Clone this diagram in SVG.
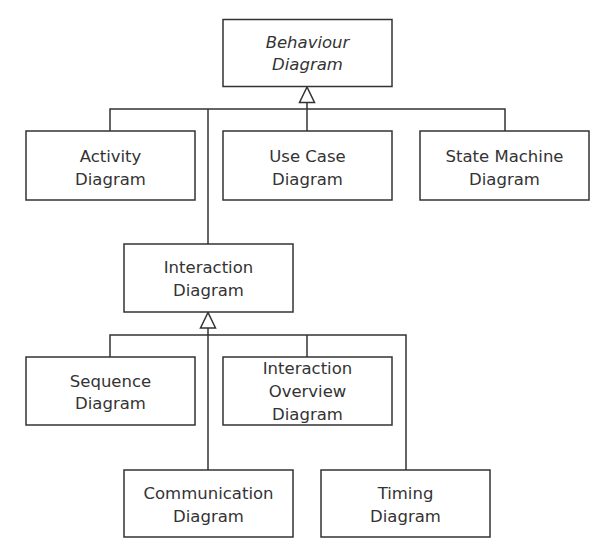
<svg xmlns="http://www.w3.org/2000/svg" width="601" height="556" viewBox="0 0 601 556">
<style>
.box{fill:#fff;stroke:#333;stroke-width:1.5}
.t{font-family:"DejaVu Sans",sans-serif;font-size:16.5px;fill:#333;text-anchor:middle}
.i{font-style:italic}
.c{fill:none;stroke:#333;stroke-width:1.5}
.tri{fill:#fff;stroke:#333;stroke-width:1.5}
</style>
<rect width="601" height="556" fill="#fff"/>
<g id="connectors">
<path class="c" d="M110,131 V109 H505 V131"/>
<path class="c" d="M307,131 V102"/>
<path class="c" d="M208,109 V244"/>
<polygon class="tri" points="307,87 299.5,102.5 314.5,102.5"/>
<path class="c" d="M110,357 V335 H406 V470"/>
<path class="c" d="M307,357 V335"/>
<path class="c" d="M208,470 V328"/>
<polygon class="tri" points="208,312.5 200.5,328 215.5,328"/>
</g>
<g id="behaviour">
<rect class="box" x="223" y="19.5" width="169" height="67"/>
<text class="t i" x="307.5" y="48">Behaviour</text>
<text class="t i" x="307.5" y="70">Diagram</text>
</g>
<g id="activity">
<rect class="box" x="26" y="131" width="169" height="69"/>
<text class="t" x="110.5" y="162">Activity</text>
<text class="t" x="110.5" y="184.5">Diagram</text>
</g>
<g id="usecase">
<rect class="box" x="223" y="131" width="169" height="69"/>
<text class="t" x="307.5" y="162">Use Case</text>
<text class="t" x="307.5" y="184.5">Diagram</text>
</g>
<g id="statemachine">
<rect class="box" x="420" y="131" width="169" height="69"/>
<text class="t" x="504.5" y="162">State Machine</text>
<text class="t" x="504.5" y="184.5">Diagram</text>
</g>
<g id="interaction">
<rect class="box" x="124" y="244" width="169" height="68"/>
<text class="t" x="208.5" y="273">Interaction</text>
<text class="t" x="208.5" y="296">Diagram</text>
</g>
<g id="sequence">
<rect class="box" x="26" y="357" width="169" height="68"/>
<text class="t" x="110.5" y="387">Sequence</text>
<text class="t" x="110.5" y="409">Diagram</text>
</g>
<g id="overview">
<rect class="box" x="223" y="357" width="169" height="68"/>
<text class="t" x="307.5" y="374">Interaction</text>
<text class="t" x="307.5" y="397">Overview</text>
<text class="t" x="307.5" y="420">Diagram</text>
</g>
<g id="communication">
<rect class="box" x="124" y="470" width="169" height="67"/>
<text class="t" x="208.5" y="499">Communication</text>
<text class="t" x="208.5" y="522">Diagram</text>
</g>
<g id="timing">
<rect class="box" x="321" y="470" width="169" height="67"/>
<text class="t" x="405.5" y="499">Timing</text>
<text class="t" x="405.5" y="522">Diagram</text>
</g>
</svg>
